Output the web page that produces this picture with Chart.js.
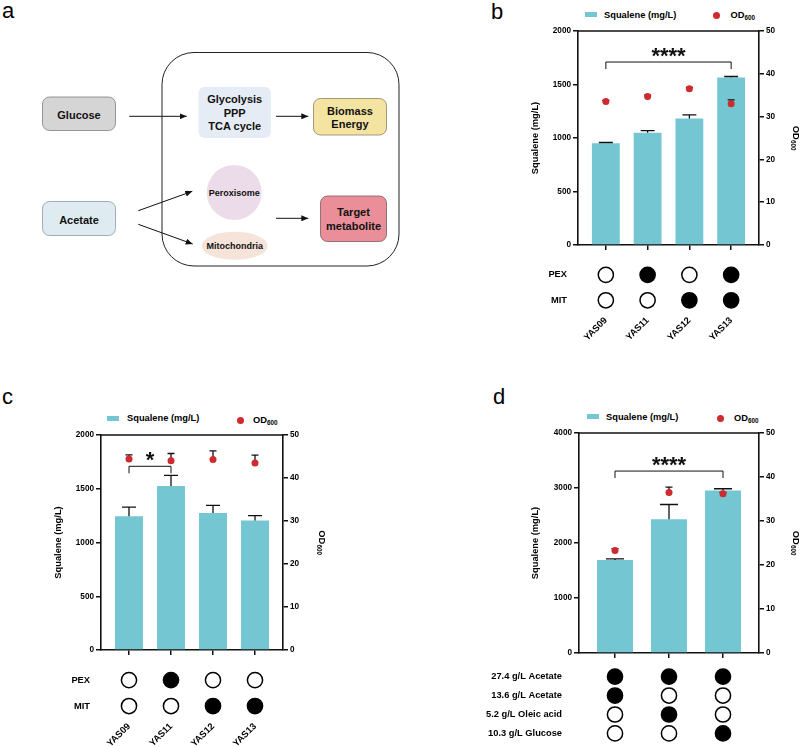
<!DOCTYPE html>
<html>
<head>
<meta charset="utf-8">
<title>Squalene from acetate - figure</title>
<script src="https://cdn.jsdelivr.net/npm/chart.js@4.4.1/dist/chart.umd.min.js"></script>
<style>
  body { margin: 0; background: #fff; }
  #page { position: relative; width: 802px; height: 747px; overflow: hidden; font-family: "Liberation Sans", Arial, sans-serif; color: #000; }
  .abs { position: absolute; }
  .tag { position: absolute; font-size: 22px; line-height: 22px; }
  .lg { position: absolute; font-size: 9.3px; font-weight: bold; line-height: 10px; white-space: nowrap; }
  .lg sub { font-size: 6.3px; vertical-align: -2px; line-height: 0; }
  .sw { position: absolute; width: 12px; height: 5px; background: #74c6d2; }
  .dot { position: absolute; width: 7px; height: 7px; border-radius: 50%; background: #cf2a2e; }
  svg text { font-family: "Liberation Sans", Arial, sans-serif; font-weight: bold; text-anchor: middle; fill: #111; }
</style>
</head>
<body>
<div id="page">

  <!-- panel a: pathway sketch -->
  <svg class="abs" style="left:0;top:0" width="402" height="300">
    <defs>
      <marker id="ah" markerWidth="7" markerHeight="6" refX="7" refY="3" orient="auto" markerUnits="userSpaceOnUse">
        <path d="M0,0 L7,3 L0,6 z" fill="#111"/>
      </marker>
    </defs>
    <rect x="162" y="52.5" width="237" height="213.5" rx="32" fill="none" stroke="#222" stroke-width="1"/>

    <rect x="42.5" y="97" width="73" height="33.5" rx="7" fill="#d5d5d5" stroke="#7d7d7d" stroke-width="0.8"/>
    <text x="79" y="118.7" font-size="11">Glucose</text>
    <rect x="42.5" y="201.5" width="73" height="34" rx="7" fill="#deecf2" stroke="#8c9ba2" stroke-width="0.8"/>
    <text x="79" y="223.7" font-size="11">Acetate</text>

    <rect x="198.5" y="87" width="72.5" height="51" rx="6" fill="#e6ecf5"/>
    <text x="234.7" y="103" font-size="11">Glycolysis</text>
    <text x="234.7" y="116.5" font-size="11">PPP</text>
    <text x="234.7" y="130" font-size="11">TCA cycle</text>

    <rect x="313.5" y="98.5" width="73" height="36.5" rx="7" fill="#f4e4a1" stroke="#8d8362" stroke-width="0.8"/>
    <text x="350" y="114.5" font-size="11">Biomass</text>
    <text x="350" y="127.8" font-size="11">Energy</text>

    <circle cx="234.2" cy="192.5" r="27.5" fill="#ecdcea"/>
    <text x="234.2" y="195.7" font-size="9">Peroxisome</text>
    <ellipse cx="234.7" cy="245.8" rx="33" ry="14" fill="#f6e3d9"/>
    <text x="234.7" y="249" font-size="9">Mitochondria</text>

    <rect x="320.5" y="196" width="66" height="45.5" rx="7" fill="#ea8f99" stroke="#7a5a5e" stroke-width="0.8"/>
    <text x="353.5" y="216" font-size="11">Target</text>
    <text x="353.5" y="229.5" font-size="11">metabolite</text>

    <g stroke="#111" stroke-width="1" marker-end="url(#ah)">
      <line x1="129.3" y1="116.3" x2="186.7" y2="116.3"/>
      <line x1="276" y1="116.3" x2="308.3" y2="116.3"/>
      <line x1="138.3" y1="210.7" x2="192.3" y2="191.3"/>
      <line x1="138.3" y1="224.3" x2="192.7" y2="244"/>
      <line x1="276" y1="218.3" x2="308.3" y2="218.3"/>
    </g>
  </svg>

  <div class="tag" style="left:2px;top:0px">a</div>
  <div class="tag" style="left:491px;top:1px">b</div>
  <div class="tag" style="left:2px;top:386px">c</div>
  <div class="tag" style="left:493px;top:386px">d</div>

  <!-- legends -->
  <div class="sw" style="left:584.5px;top:12px"></div>
  <div class="lg" style="left:604px;top:9.5px">Squalene (mg/L)</div>
  <div class="dot" style="left:713.2px;top:12px"></div>
  <div class="lg" style="left:730.5px;top:10px">OD<sub>600</sub></div>

  <div class="sw" style="left:107px;top:416px"></div>
  <div class="lg" style="left:127px;top:413.2px">Squalene (mg/L)</div>
  <div class="dot" style="left:236.5px;top:416.5px"></div>
  <div class="lg" style="left:253px;top:414.6px">OD<sub>600</sub></div>

  <div class="sw" style="left:586.5px;top:414px"></div>
  <div class="lg" style="left:606px;top:411.6px">Squalene (mg/L)</div>
  <div class="dot" style="left:717.2px;top:414.6px"></div>
  <div class="lg" style="left:734px;top:412.6px">OD<sub>600</sub></div>

  <canvas id="bMain" class="abs" style="left:528px;top:21px" width="274" height="232"></canvas>
  <canvas id="bGrid" class="abs" style="left:528px;top:253px" width="274" height="94"></canvas>
  <canvas id="cMain" class="abs" style="left:51px;top:425px" width="277" height="233"></canvas>
  <canvas id="cGrid" class="abs" style="left:51px;top:658px" width="277" height="89"></canvas>
  <canvas id="dMain" class="abs" style="left:528px;top:423px" width="274" height="238"></canvas>
  <canvas id="dGrid" class="abs" style="left:470px;top:658px" width="332" height="94"></canvas>
</div>

<script>
// ---- data ----

// b: peroxisome / mitochondria engineering
const strainsB = ['YAS09', 'YAS11', 'YAS12', 'YAS13'];
const squaleneB = [950, 1050, 1182, 1565];
const squaleneErrB = [8, 18, 35, 10];
const odB = [33.5, 34.7, 36.5, 33.0];
const odErrB = [0.3, 0.3, 0.3, 0.9];
const pexB = [0, 1, 0, 1];
const mitB = [0, 0, 1, 1];
const sigB = { from: 0, to: 3, value: 1710, label: '****' };

// c: same strains, second condition
const strainsC = ['YAS09', 'YAS11', 'YAS12', 'YAS13'];
const squaleneC = [1245, 1525, 1275, 1205];
const squaleneErrC = [85, 100, 71, 45];
const odC = [44.4, 44.0, 44.3, 43.5];
const odErrC = [1.0, 1.7, 2.0, 1.8];
const pexC = [0, 1, 0, 0];
const mitC = [0, 0, 1, 1];
const sigC = { from: 0, to: 1, value: 1709, label: '*' };

// d: carbon source combinations
const conditionsD = ['27.4 g/L Acetate', '13.6 g/L Acetate', '5.2 g/L Oleic acid', '10.3 g/L Glucose'];
const squaleneD = [1690, 2434, 2955];
const squaleneErrD = [21, 266, 31];
const odD = [23.3, 36.5, 36.2];
const odErrD = [0.4, 1.2, 0.3];
const acetateHighD = [1, 1, 1];
const acetateLowD = [1, 0, 0];
const oleicD = [0, 1, 0];
const glucoseD = [0, 0, 1];
const sigD = { from: 0, to: 2, value: 3308, label: '****' };

const squaleneMaxBC = 2000;
const squaleneStepBC = 500;
const squaleneMaxD = 4000;
const squaleneStepD = 1000;
const odMax = 50;
const odStep = 10;

// ---- look ----
const TEAL = '#74c6d2';
const RED = '#cf2a2e';
const INK = '#111';
const FAMILY = '"Liberation Sans", Arial, sans-serif';
const EDGE = 2 / 3;   // empty space before first / after last bar, in bar slots

Chart.defaults.font.family = FAMILY;
Chart.defaults.font.weight = 'bold';
Chart.defaults.color = '#000';

// upward error whiskers for bars and OD dots
const errorBars = {
  id: 'errorBars',
  afterDatasetDraw(chart, args) {
    if (args.index !== 0) return; // after bars, before the dots
    const ctx = chart.ctx;
    const xScale = chart.scales.x;
    ctx.save();
    ctx.strokeStyle = INK;
    ctx.lineWidth = 1.3;
    chart.data.datasets.forEach((ds, di) => {
      const yScale = chart.scales[ds.yAxisID];
      const meta = chart.getDatasetMeta(di);
      ds.data.forEach((pt, i) => {
        const x = xScale.getPixelForValue(pt.x);
        const y0 = yScale.getPixelForValue(pt.y);
        const y1 = yScale.getPixelForValue(pt.y + ds.errors[i]);
        const half = ds.type === 'bar' ? meta.data[i].width / 4 : 3.5;
        ctx.beginPath();
        ctx.moveTo(x, y0);
        ctx.lineTo(x, y1);
        ctx.moveTo(x - half, y1);
        ctx.lineTo(x + half, y1);
        ctx.stroke();
      });
    });
    ctx.restore();
  }
};

// top edge of the box, significance bracket, OD600 axis title with real subscript
const frame = {
  id: 'frame',
  afterDraw(chart, args, opts) {
    const { ctx, chartArea: a } = chart;
    const xs = chart.scales.x, ys = chart.scales.y, ys2 = chart.scales.y2;
    ctx.save();
    ctx.strokeStyle = INK;
    ctx.lineWidth = 1.6;
    ctx.beginPath();
    ctx.moveTo(a.left - 0.8, a.top);
    ctx.lineTo(a.right + 0.8, a.top);
    ctx.stroke();

    const s = opts.sig;
    if (s) {
      const x0 = xs.getPixelForValue(s.from);
      const x1 = xs.getPixelForValue(s.to);
      const yb = ys.getPixelForValue(s.value);
      ctx.lineWidth = 1;
      ctx.beginPath();
      ctx.moveTo(x0, yb + 7);
      ctx.lineTo(x0, yb);
      ctx.lineTo(x1, yb);
      ctx.lineTo(x1, yb + 7);
      ctx.stroke();
      ctx.fillStyle = INK;
      ctx.font = 'bold 22px ' + FAMILY;
      ctx.textAlign = 'center';
      ctx.textBaseline = 'alphabetic';
      ctx.fillText(s.label, (x0 + x1) / 2, yb + 1);
    }

    // right axis title, read top to bottom
    const mainFont = 'bold 9.3px ' + FAMILY;
    const subFont = 'bold 6.3px ' + FAMILY;
    ctx.font = mainFont;
    const w1 = ctx.measureText('OD').width;
    ctx.font = subFont;
    const w2 = ctx.measureText('600').width;
    ctx.translate(ys2.right - 6, (ys2.top + ys2.bottom) / 2);
    ctx.rotate(Math.PI / 2);
    ctx.fillStyle = '#000';
    ctx.textAlign = 'left';
    ctx.textBaseline = 'middle';
    const start = -(w1 + w2) / 2;
    ctx.font = mainFont;
    ctx.fillText('OD', start, 0);
    ctx.font = subFont;
    ctx.fillText('600', start + w1 + 0.3, 3);
    ctx.restore();
  }
};

function yAxis(position, max, step, title, width) {
  return {
    position,
    min: 0,
    max,
    ticks: { stepSize: step, padding: 2, font: { size: 8.2 }, callback: v => String(v) },
    grid: { drawOnChartArea: false, tickLength: 5, color: INK, lineWidth: 1.5 },
    border: { color: INK, width: 1.6 },
    title: { display: !!title, text: title, font: { size: 9.3 }, padding: { top: 1.5, bottom: 0 } },
    afterFit: s => { s.width = width; }
  };
}

function buildMain(id, labels, squalene, sqErr, od, odErr, yMax, yStep, leftW, rightW, sig) {
  const n = labels.length;
  return new Chart(document.getElementById(id), {
    type: 'bar',
    data: {
      datasets: [
        {
          type: 'bar',
          label: 'Squalene (mg/L)',
          data: squalene.map((v, i) => ({ x: i, y: v })),
          errors: sqErr,
          yAxisID: 'y',
          backgroundColor: TEAL,
          borderWidth: 0,
          barPercentage: 2 / 3,
          categoryPercentage: 1,
          order: 1
        },
        {
          type: 'scatter',
          label: 'OD600',
          data: od.map((v, i) => ({ x: i, y: v })),
          errors: odErr,
          yAxisID: 'y2',
          pointRadius: 3.5,
          pointBackgroundColor: RED,
          pointBorderWidth: 0,
          order: 0
        }
      ]
    },
    options: {
      responsive: false,
      animation: false,
      events: [],
      layout: { padding: { top: 10, right: 0, bottom: 0, left: 0 } },
      plugins: { legend: { display: false }, tooltip: { enabled: false }, frame: { sig } },
      scales: {
        x: {
          type: 'linear',
          min: -EDGE,
          max: n - 1 + EDGE,
          offset: false,
          afterBuildTicks: s => { s.ticks = labels.map((_, i) => ({ value: i })); },
          ticks: { display: false },
          grid: { offset: false, drawOnChartArea: false, tickLength: 5, color: INK, lineWidth: 1.5 },
          border: { color: INK, width: 1.6 },
          afterFit: s => { s.height = 8; }
        },
        y: yAxis('left', yMax, yStep, 'Squalene (mg/L)', leftW),
        y2: yAxis('right', odMax, odStep, '', rightW)
      }
    },
    plugins: [errorBars, frame]
  });
}

// filled / open circle matrix under the bars
function buildGrid(id, n, rowNames, rows, xLabels, leftW, rightPad, topPad, xHeight, labelGap) {
  return new Chart(document.getElementById(id), {
    type: 'scatter',
    data: {
      datasets: rows.map((vals, r) => ({
        data: vals.map((v, i) => ({ x: i, y: rowNames[r] })),
        pointRadius: 7.6,
        pointBorderWidth: 1.5,
        pointBorderColor: '#000',
        pointBackgroundColor: vals.map(v => (v ? '#000' : '#fff'))
      }))
    },
    options: {
      responsive: false,
      animation: false,
      events: [],
      layout: { padding: { top: topPad, right: rightPad, bottom: 0, left: 0 } },
      plugins: { legend: { display: false }, tooltip: { enabled: false } },
      scales: {
        x: {
          type: 'linear',
          min: -EDGE,
          max: n - 1 + EDGE,
          display: !!xLabels,
          afterBuildTicks: s => { s.ticks = Array.from({ length: n }, (_, i) => ({ value: i })); },
          ticks: {
            callback: v => (xLabels ? xLabels[v] : ''),
            autoSkip: false,
            minRotation: 45,
            maxRotation: 45,
            padding: 2,
            font: { size: 9.3 }
          },
          grid: { display: false, drawTicks: false },
          border: { display: false },
          afterFit: s => { s.height = xHeight; }
        },
        y: {
          type: 'category',
          labels: rowNames,
          offset: true,
          ticks: { padding: 0, font: { size: 9.3 } },
          grid: { display: false, drawTicks: true, tickLength: labelGap },
          border: { display: false },
          afterFit: s => { s.width = leftW; }
        }
      }
    }
  });
}

buildMain('bMain', strainsB, squaleneB, squaleneErrB, odB, odErrB, squaleneMaxBC, squaleneStepBC, 50, 43, sigB);
buildGrid('bGrid', strainsB.length, ['PEX', 'MIT'], [pexB, mitB], strainsB, 50, 43, 5, 34, 11);

buildMain('cMain', strainsC, squaleneC, squaleneErrC, odC, odErrC, squaleneMaxBC, squaleneStepBC, 50, 45, sigC);
buildGrid('cGrid', strainsC.length, ['PEX', 'MIT'], [pexC, mitC], strainsC, 50, 45, 5, 28, 11);

buildMain('dMain', squaleneD.map((_, i) => 'S' + i), squaleneD, squaleneErrD, odD, odErrD, squaleneMaxD, squaleneStepD, 51, 43, sigD);
buildGrid('dGrid', squaleneD.length, conditionsD, [acetateHighD, acetateLowD, oleicD, glucoseD], null, 109, 43, 0, 0, 17);
</script>
</body>
</html>
